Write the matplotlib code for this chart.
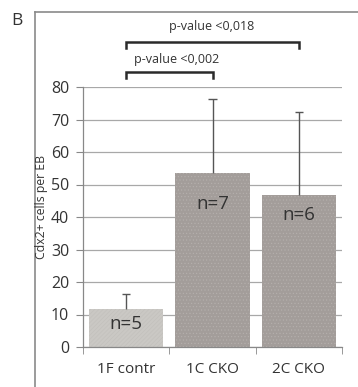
import matplotlib
matplotlib.use("Agg")
from matplotlib import pyplot as plt

# data
groups = ['1F contr', '1C CKO', '2C CKO']
means = [11.7, 53.5, 46.8]
err_up = [4.5, 22.7, 25.5]
n_labels = ['n=5', 'n=7', 'n=6']
n_label_y = [7, 44, 40.5]

p_labels = ['p-value <0,002', 'p-value <0,018']
p_pairs = [(0, 1), (0, 2)]

plt.rcParams['font.family'] = ['Open Sans', 'DejaVu Sans']
plt.rcParams['hatch.linewidth'] = 0.4
text_col = '#333333'

fig = plt.figure(figsize=(3.58, 3.87), dpi=100)
ax = fig.add_axes([83 / 358, 40 / 387, 259 / 358, 260 / 387])

x = list(range(len(groups)))
face = ['#cac8c4', '#a39d9a', '#a39d9a']
hatch_col = ['#c1bfbb', '#b6b1ae', '#b6b1ae']
for i in x:
    ax.bar(i, means[i], width=0.86, color=face[i], edgecolor=hatch_col[i],
           linewidth=0, hatch='.....' if i else '////////', zorder=2)
    # upper error bar only
    top = means[i] + err_up[i]
    ax.vlines(i, means[i], top, color='#555555', linewidth=1, zorder=3)
    ax.hlines(top, i - 0.05, i + 0.05, color='#555555', linewidth=1, zorder=3)
    ax.text(i, n_label_y[i], n_labels[i], ha='center', va='center',
            fontsize=13.5, color=text_col, zorder=4)

ax.set_xlim(-0.5, 2.5)
ax.set_ylim(0, 80)
ax.set_yticks(range(0, 81, 10))
ax.yaxis.grid(True, color='#a8a8a8', linewidth=0.9, zorder=0)
ax.set_axisbelow(True)

ax.set_xticks(x)
ax.set_xticklabels(groups)
ax.set_xticks([-0.5, 0.5, 1.5, 2.5], minor=True)
ax.tick_params(axis='x', which='major', length=0, pad=11, labelsize=11,
               labelcolor=text_col)
ax.tick_params(axis='x', which='minor', length=5, color='#888888', direction='out')
ax.tick_params(axis='y', length=5, color='#888888', pad=5, labelsize=11.5,
               labelcolor=text_col)

for s in ['top', 'right']:
    ax.spines[s].set_visible(False)
for s in ['left', 'bottom']:
    ax.spines[s].set_color('#888888')
    ax.spines[s].set_linewidth(0.9)

# significance brackets
bracket_y = [84.6, 93.8]
label_y = [88.4, 98.7]
label_x = [0.59, 0.99]
for (a, b), by, ly, lx, lab in zip(p_pairs, bracket_y, label_y, label_x, p_labels):
    ax.plot([a, a, b, b], [by - 1.8, by, by, by - 1.8], color='#2a2a2a',
            linewidth=1.8, clip_on=False, solid_joinstyle='miter')
    ax.text(lx, ly, lab, ha='center', va='center', fontsize=9,
            color=text_col, clip_on=False)

fig.text(42 / 358, 1 - 207 / 387, 'Cdx2+ cells per EB', rotation=90,
         ha='center', va='center', fontsize=8.8, color=text_col)
fig.text(17 / 358, 1 - 21 / 387, 'B', ha='center', va='center', fontsize=12.5,
         color=text_col)

# outer panel frame (open at right and bottom)
fig.add_artist(plt.Line2D([35 / 358, 35 / 358], [0, 1 - 12 / 387],
                          color='#8a8a8a', linewidth=1.2,
                          transform=fig.transFigure))
fig.add_artist(plt.Line2D([35 / 358, 1], [1 - 12 / 387, 1 - 12 / 387],
                          color='#8a8a8a', linewidth=1.2,
                          transform=fig.transFigure))

fig.savefig('out.png', dpi=100)
